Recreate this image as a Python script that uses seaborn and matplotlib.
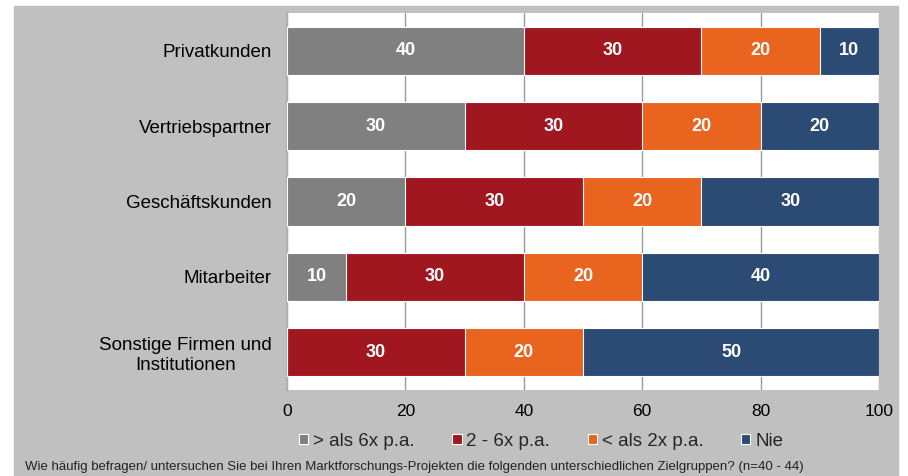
import pandas as pd
import numpy as np
import matplotlib.pyplot as plt
import seaborn as sns
from matplotlib.patches import Rectangle, Patch

# data
gruppen = ["Privatkunden", "Vertriebspartner", "Geschäftskunden", "Mitarbeiter",
           "Sonstige Firmen und\nInstitutionen"]
ueber_6x = [40, 30, 20, 10, 0]
zwei_bis_6x = [30, 30, 30, 30, 30]
unter_2x = [20, 20, 20, 20, 20]
nie = [10, 20, 30, 40, 50]
serien = ["> als 6x p.a.", "2 - 6x p.a.", "< als 2x p.a.", "Nie"]
farben = ["#808080", "#A1171F", "#E9641E", "#2B4A74"]
caption = ("Wie häufig befragen/ untersuchen Sie bei Ihren Marktforschungs-Projekten "
           "die folgenden unterschiedlichen Zielgruppen? (n=40 - 44)")

sns.set_theme(style="white")
plt.rcParams["font.family"] = ["Liberation Sans", "DejaVu Sans"]

df = pd.DataFrame({"Gruppe": gruppen, serien[0]: ueber_6x, serien[1]: zwei_bis_6x,
                   serien[2]: unter_2x, serien[3]: nie})
werte = df[serien].to_numpy()
kum = werte.cumsum(axis=1)

fig = plt.figure(figsize=(9.08, 4.76), dpi=100)
fig.patches.append(Rectangle((14 / 908, 0), (898 - 14) / 908, 1 - 6 / 476,
                             transform=fig.transFigure, color="#C0C0C0", zorder=-1))
ax = fig.add_axes([287 / 908, 1 - 390 / 476, (879 - 287) / 908, 377 / 476])
ax.set_zorder(1)
ax.set_facecolor("white")

# stacked bars: draw cumulative totals from largest to smallest
for i in range(3, -1, -1):
    d = pd.DataFrame({"Gruppe": gruppen, "wert": kum[:, i]})
    sns.barplot(data=d, x="wert", y="Gruppe", orient="y", color=farben[i],
                width=0.64, edgecolor="white", linewidth=0.8, saturation=1,
                ax=ax, zorder=3)

for r in range(len(gruppen)):
    for i in range(4):
        v = werte[r, i]
        if v > 0:
            ax.text(kum[r, i] - v / 2, r, str(v), ha="center", va="center",
                    color="white", fontsize=13, fontweight="bold", zorder=5)

ax.set_xlim(0, 100)
ax.set_xticks([0, 20, 40, 60, 80, 100])
ax.xaxis.grid(True, color="#9A9A9A", linewidth=1)
ax.set_axisbelow(True)
ax.set_xlabel("")
ax.set_ylabel("")
ax.tick_params(axis="x", length=0, labelsize=12.5, colors="black", pad=10)
ax.tick_params(axis="y", length=0, labelsize=13.5, colors="black", pad=11)
for lab in ax.get_yticklabels():
    lab.set_multialignment("center")
for s in ["top", "right", "bottom"]:
    ax.spines[s].set_visible(False)
ax.spines["left"].set_color("#B0B0B0")
ax.spines["left"].set_linewidth(1.5)

handles = [Patch(facecolor=c, edgecolor="white", linewidth=0.8) for c in farben]
fig.legend(handles, serien, loc="center", bbox_to_anchor=(541 / 908, 1 - 441 / 476),
           ncol=4, frameon=False, fontsize=13.5, handlelength=0.5, handleheight=0.5,
           handletextpad=0.25, columnspacing=2.0)
fig.text(25 / 908, 1 - 467 / 476, caption, fontsize=9.5, va="center", ha="left",
         color="#222222")

fig.savefig("out.png", dpi=100)
